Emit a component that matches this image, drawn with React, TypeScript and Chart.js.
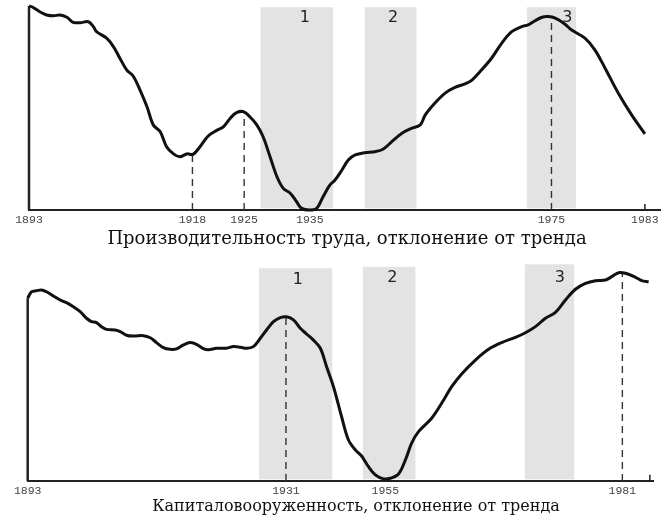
import React, { useEffect, useRef } from "react";
import { Chart, registerables } from "chart.js";

Chart.register(...registerables);

// ---------- Panel 1: labour productivity ----------
const TOP_TITLE = "Производительность труда, отклонение от тренда";
const TOP_TITLE_CENTER = 50.4;
const TOP_X = [0, 0.6, 1.7, 2.8, 3.9, 4.9, 6.0, 7.0, 8.1, 9.4, 10.2, 10.7, 12.3, 13.4, 14.4, 15.5, 16.5, 17.6, 18.7, 19.7, 20.8, 21.8, 22.9, 23.9, 25.0, 26.0, 27.1, 28.4, 29.7, 30.8, 31.9, 32.9, 34.0, 35.0, 36.1, 37.1, 38.2, 39.3, 40.3, 41.4, 42.4, 43.2, 44.5, 45.6, 46.6, 47.7, 48.5, 49.6, 50.6, 51.7, 53.2, 54.8, 56.1, 57.5, 59.1, 60.6, 62.0, 62.8, 64.3, 65.9, 67.5, 69.1, 70.2, 71.7, 73.3, 74.9, 76.5, 78.1, 79.1, 80.2, 81.3, 82.3, 83.4, 84.9, 86.0, 88.1, 89.7, 91.3, 93.4, 95.5, 97.6];
const TOP_Y = [100, 99.4, 97.2, 95.6, 95.2, 95.6, 94.5, 92.0, 91.8, 92.3, 89.9, 87.4, 84.2, 80.0, 74.4, 68.6, 65.7, 58.8, 50.6, 41.7, 38.4, 31.0, 27.5, 26.1, 27.5, 27.3, 31.0, 36.3, 38.9, 40.8, 45.0, 47.7, 48.2, 45.7, 41.7, 35.9, 26.1, 16.3, 10.6, 8.2, 4.1, 0.8, 0, 0.8, 6.5, 12.3, 14.7, 19.6, 24.5, 27.0, 28.1, 28.6, 29.8, 33.5, 37.6, 40.0, 41.7, 46.6, 52.3, 57.2, 60.1, 61.8, 63.7, 68.6, 74.4, 81.7, 87.4, 89.9, 90.7, 92.8, 94.5, 94.8, 94.0, 91.2, 88.2, 84.2, 78.4, 69.5, 57.2, 46.6, 37.3];
const TOP_TICK_POS = [0, 25.9, 34.1, 44.5, 82.8, 97.6];
const TOP_TICK_LABELS = ["1893", "1918", "1925", "1935", "1975", "1983"];
const TOP_DROP_X = [25.9, 34.1, 82.8];
const TOP_DROP_Y = [27.3, 48.2, 94.8];
const TOP_MARK_X = [97.6];
const TOP_BAND_START = [36.7, 53.2, 78.9];
const TOP_BAND_END = [48.2, 61.4, 86.7];
const TOP_BAND_TOP = [99.4, 99.4, 99.4];
const TOP_LABEL_X = [43.7, 57.7, 85.3];
const TOP_LABEL_Y = [94, 94, 94];

// ---------- Panel 2: capital-labour ratio ----------
const BOTTOM_TITLE = "Капиталовооруженность, отклонение от тренда";
const BOTTOM_TITLE_CENTER = 52.5;
const BOTTOM_X = [0, 0.6, 1.4, 2.2, 3.0, 4.1, 5.2, 6.2, 7.3, 8.4, 9.4, 10.2, 11.0, 11.8, 12.6, 14.0, 14.8, 15.8, 16.9, 18.5, 19.6, 20.6, 21.7, 22.8, 23.8, 24.9, 26.0, 27.0, 28.1, 28.9, 30.2, 31.8, 32.9, 34.0, 35.0, 36.1, 37.2, 38.2, 39.3, 40.4, 41.4, 42.5, 43.6, 44.6, 45.7, 46.8, 47.8, 48.9, 50.2, 51.3, 52.4, 53.4, 54.5, 55.6, 56.9, 58.0, 59.3, 60.4, 61.4, 62.5, 64.6, 66.2, 67.8, 69.4, 71.6, 73.7, 75.8, 78.0, 79.6, 81.2, 82.8, 84.4, 86.0, 87.6, 89.2, 90.8, 92.4, 93.4, 94.5, 95.6, 97.2, 98.2, 99.3];
const BOTTOM_Y = [87.0, 90.1, 90.6, 91.0, 90.1, 88.1, 86.2, 84.9, 83.0, 80.6, 77.5, 75.9, 75.4, 73.5, 72.2, 71.9, 71.1, 69.4, 69.0, 69.2, 68.2, 65.9, 63.5, 62.7, 62.9, 64.8, 65.9, 65.1, 63.0, 62.5, 63.2, 63.2, 64.0, 63.7, 63.2, 64.0, 68.0, 71.9, 75.9, 77.8, 78.2, 76.7, 72.7, 70.0, 67.1, 63.2, 54.4, 44.9, 30.6, 19.5, 14.8, 11.9, 6.8, 2.9, 1.0, 1.3, 3.3, 10.0, 18.0, 23.5, 29.9, 37.0, 44.9, 51.0, 57.6, 62.7, 65.9, 68.4, 70.6, 73.5, 77.5, 80.3, 86.2, 91.3, 94.1, 95.4, 95.7, 97.3, 99.2, 98.9, 97.0, 95.4, 94.9];
const BOTTOM_TICK_POS = [0, 41.3, 57.2, 95.1];
const BOTTOM_TICK_LABELS = ["1893", "1931", "1955", "1981"];
const BOTTOM_DROP_X = [41.3, 95.1];
const BOTTOM_DROP_Y = [78.2, 99.0];
const BOTTOM_MARK_X = [99.5];
const BOTTOM_BAND_START = [37.0, 53.6, 79.5];
const BOTTOM_BAND_END = [48.7, 62.0, 87.4];
const BOTTOM_BAND_TOP = [101.3, 102.0, 103.2];
const BOTTOM_LABEL_X = [43.2, 58.3, 85.1];
const BOTTOM_LABEL_Y = [95.7, 96.7, 96.7];

const BAND_NAMES = ["1", "2", "3"];

type Panel = {
  xs: number[];
  ys: number[];
  tickPos: number[];
  tickLabels: string[];
  dropX: number[];
  dropY: number[];
  markX: number[];
  bandStart: number[];
  bandEnd: number[];
  bandTop: number[];
  labelX: number[];
  labelY: number[];
  yMax: number;
  title: string;
  titleCenter: number;
  titleSize: number;
  titleOffset: number;
  padLeft: number;
  padRight: number;
  padTop: number;
  axisHeight: number;
};

function makeChart(canvas: HTMLCanvasElement, p: Panel) {
  const datasets: any[] = [
    {
      data: p.xs.map((x, i) => ({ x, y: p.ys[i] })),
      borderColor: "#111",
      borderWidth: 3,
      pointRadius: 0,
      tension: 0.35,
      clip: false,
      fill: false,
    },
  ];
  p.dropX.forEach((x, i) => {
    datasets.push({
      data: [
        { x, y: 0 },
        { x, y: p.dropY[i] },
      ],
      borderColor: "#333",
      borderWidth: 1.4,
      borderDash: [7, 5],
      pointRadius: 0,
      clip: false,
    });
  });
  p.markX.forEach((x) => {
    datasets.push({
      data: [
        { x, y: 0 },
        { x, y: 3 },
      ],
      borderColor: "#222",
      borderWidth: 1.5,
      pointRadius: 0,
      clip: false,
    });
  });

  const bandsPlugin = {
    id: "bands",
    beforeDatasetsDraw(chart: any) {
      const { ctx, scales } = chart;
      const xs = scales.x;
      const ys = scales.y;
      ctx.save();
      ctx.fillStyle = "#e3e3e3";
      p.bandStart.forEach((s, i) => {
        const x0 = xs.getPixelForValue(s);
        const x1 = xs.getPixelForValue(p.bandEnd[i]);
        const yT = ys.getPixelForValue(p.bandTop[i]);
        const yB = ys.getPixelForValue(0.8);
        ctx.fillRect(x0, yT, x1 - x0, yB - yT);
      });
      ctx.fillStyle = "#222";
      ctx.font = '16px "DejaVu Sans"';
      ctx.textAlign = "center";
      ctx.textBaseline = "middle";
      p.labelX.forEach((lx, i) => {
        ctx.fillText(BAND_NAMES[i], xs.getPixelForValue(lx), ys.getPixelForValue(p.labelY[i]));
      });
      // vertical axis line, from origin up to first value
      ctx.strokeStyle = "#222";
      ctx.lineWidth = 2.5;
      ctx.beginPath();
      ctx.moveTo(xs.getPixelForValue(0), ys.getPixelForValue(0));
      ctx.lineTo(xs.getPixelForValue(0), ys.getPixelForValue(p.ys[0]));
      ctx.stroke();
      ctx.restore();
    },
    afterDraw(chart: any) {
      const { ctx, scales, chartArea } = chart;
      ctx.save();
      ctx.fillStyle = "#111";
      ctx.font = `${p.titleSize}px "DejaVu Serif", serif`;
      ctx.textAlign = "center";
      ctx.textBaseline = "middle";
      ctx.fillText(p.title, scales.x.getPixelForValue(p.titleCenter), chartArea.bottom + p.titleOffset);
      ctx.restore();
    },
  };

  return new Chart(canvas, {
    type: "line",
    data: { datasets },
    plugins: [bandsPlugin],
    options: {
      animation: false,
      responsive: false,
      maintainAspectRatio: false,
      events: [],
      layout: {
        padding: { left: p.padLeft, right: p.padRight, top: p.padTop, bottom: 0 },
      },
      plugins: {
        legend: { display: false },
        tooltip: { enabled: false },
        title: { display: false },
      },
      scales: {
        x: {
          type: "linear",
          min: 0,
          max: 100,
          grid: { display: false, drawTicks: false, tickLength: 0 },
          border: { display: true, color: "#222", width: 2 },
          ticks: {
            autoSkip: false,
            maxRotation: 0,
            minRotation: 0,
            padding: 3,
            color: "#444",
            font: { family: '"Liberation Mono", monospace', size: 11.5 },
            callback: (_v: any, i: number) => p.tickLabels[i],
          },
          afterBuildTicks: (s: any) => {
            s.ticks = p.tickPos.map((v) => ({ value: v }));
          },
          afterFit: (s: any) => {
            s.height = p.axisHeight;
          },
        },
        y: {
          type: "linear",
          min: 0,
          max: p.yMax,
          display: false,
        },
      },
    } as any,
  });
}

export default function App() {
  const topRef = useRef<HTMLCanvasElement>(null);
  const bottomRef = useRef<HTMLCanvasElement>(null);

  useEffect(() => {
    const c1 = makeChart(topRef.current!, {
      xs: TOP_X,
      ys: TOP_Y,
      tickPos: TOP_TICK_POS,
      tickLabels: TOP_TICK_LABELS,
      dropX: TOP_DROP_X,
      dropY: TOP_DROP_Y,
      markX: TOP_MARK_X,
      bandStart: TOP_BAND_START,
      bandEnd: TOP_BAND_END,
      bandTop: TOP_BAND_TOP,
      labelX: TOP_LABEL_X,
      labelY: TOP_LABEL_Y,
      yMax: 100,
      title: TOP_TITLE,
      titleCenter: TOP_TITLE_CENTER,
      titleSize: 18,
      titleOffset: 29,
      padLeft: 29,
      padRight: 10,
      padTop: 6,
      axisHeight: 40,
    });
    const c2 = makeChart(bottomRef.current!, {
      xs: BOTTOM_X,
      ys: BOTTOM_Y,
      tickPos: BOTTOM_TICK_POS,
      tickLabels: BOTTOM_TICK_LABELS,
      dropX: BOTTOM_DROP_X,
      dropY: BOTTOM_DROP_Y,
      markX: BOTTOM_MARK_X,
      bandStart: BOTTOM_BAND_START,
      bandEnd: BOTTOM_BAND_END,
      bandTop: BOTTOM_BAND_TOP,
      labelX: BOTTOM_LABEL_X,
      labelY: BOTTOM_LABEL_Y,
      yMax: 104,
      title: BOTTOM_TITLE,
      titleCenter: BOTTOM_TITLE_CENTER,
      titleSize: 16,
      titleOffset: 26,
      padLeft: 27.7,
      padRight: 17,
      padTop: 12.6,
      axisHeight: 49,
    });
    return () => {
      c1.destroy();
      c2.destroy();
    };
  }, []);

  return (
    <div
      style={{
        position: "fixed",
        left: 0,
        top: 0,
        width: 670,
        height: 530,
        background: "#fff",
      }}
    >
      <canvas
        ref={topRef}
        width={670}
        height={250}
        style={{ position: "absolute", left: 0, top: 0, width: 670, height: 250 }}
      />
      <canvas
        ref={bottomRef}
        width={670}
        height={280}
        style={{ position: "absolute", left: 0, top: 250, width: 670, height: 280 }}
      />
    </div>
  );
}
